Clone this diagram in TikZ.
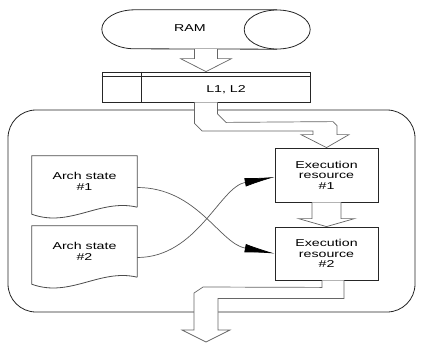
\documentclass[tikz,border=0pt]{standalone}
\usepackage{fontspec}
\setmainfont{Liberation Sans}[FakeStretch=1.42]
\usetikzlibrary{arrows.meta, calc}

\tikzset{
  unit/.style={draw=black!85, line width=0.8pt, fill=white, align=center, inner sep=0pt},
  docline/.style={draw=black!70, line width=0.8pt},
  blockarrow/.style={draw=black!60, line width=0.7pt, fill=white},
  link/.style={draw=black!65, line width=0.7pt, -{Latex[length=30pt,width=8.5pt,black]}},
}

\begin{document}
\begin{tikzpicture}[x=1pt, y=-1pt, font=\fontsize{10}{10.5}\selectfont]
  \useasboundingbox (0,0) rectangle (425,346);

  % core outline
  \node[unit, rounded corners=28pt, minimum width=407pt, minimum height=202pt] (core) at (211.5,211) {};

  % memory side
  \node[inner sep=0pt, minimum width=208pt, minimum height=39pt] (ram) at (206,29.5) {};
  \draw[black!85, line width=0.8pt] ($(ram.north east)+(-33,0)$) -- ($(ram.north west)+(33,0)$)
    arc[start angle=270, end angle=90, x radius=33, y radius=19.5] -- ($(ram.south east)+(-33,0)$);
  \draw[black!85, line width=0.8pt] ($(ram.east)+(-33,0)$) ellipse[x radius=33, y radius=19.5];
  \node (ramtext) at (190,28.5) {RAM};

  \node[unit, minimum width=208pt, minimum height=30pt] (cache) at (206,87) {};
  \draw[black!85, line width=0.8pt] ($(cache.north west)+(0,5)$) -- ($(cache.north east)+(0,5)$);
  \draw[black!85, line width=0.8pt] ($(cache.north west)+(40,0)$) -- ($(cache.south west)+(40,0)$);
  \node (cachetext) at (226,89.5) {L1, L2};

  % arch states
  \node[align=center, inner sep=0pt, minimum width=105pt, minimum height=51pt] (arch1) at (84.5,181.5) {Arch state\\\#1};
  \node[align=center, inner sep=0pt, minimum width=105pt, minimum height=51pt] (arch2) at (84.5,251.5) {Arch state\\\#2};
  \draw[docline] (arch1.south east) |- (arch1.north west) -- ($(arch1.south west)+(0,7)$)
    .. controls +(38,14) and +(-37,-9) .. (arch1.south east);
  \draw[docline] (arch2.south east) |- (arch2.north west) -- ($(arch2.south west)+(0,7)$)
    .. controls +(38,14) and +(-37,-9) .. (arch2.south east);

  % execution resources
  \node[unit, minimum width=103pt, minimum height=54pt] (exe1) at (326.5,175) {Execution\\resource\\\#1};
  \node[unit, minimum width=103pt, minimum height=53pt] (exe2) at (326.5,253.5) {Execution\\resource\\\#2};

  % crossing links
  \draw[link] ($(arch1.east)+(0,6)$) .. controls +(60,0) and +(-55,-10) .. (exe2.west);
  \draw[link] ($(arch2.east)+(0,6)$) .. controls +(60,0) and +(-55,10) .. ($(exe1.west)+(0,2)$);

  % block arrows
  \draw[blockarrow] ($(ram.south)+(-11.5,0)$) |- ($(cache.north)+(-25.5,-13)$) -- (cache.north)
    -- ($(cache.north)+(25.5,-13)$) -| ($(ram.south)+(11.5,0)$);

  \draw[blockarrow] ($(cache.south)+(-11.5,0)$) -- ++(0,21) -- ++(7.5,7.5)
    -| ($(exe1.north)+(-13.5,-13)$) -- ++(-12,0) -- (exe1.north)
    -- ($(exe1.north)+(22.5,-13)$) -- ++(-12,0) -- ++(0,-9) -- ++(-4,-4)
    -- ($(cache.south)+(20,20)$) -- ++(-8.5,-8.5) -- ($(cache.south)+(11.5,0)$);

  \draw[blockarrow] ($(exe1.south)+(-14.5,0)$) |- ($(exe2.north)+(-28,-8)$) -- (exe2.north)
    -- ($(exe2.north)+(28,-8)$) -| ($(exe1.south)+(14.5,0)$);

  \coordinate (out) at (206,342);
  \draw[blockarrow] ($(exe2.south)+(-4.5,0)$) -- ++(0,7) -- ($(out)+(-3,-55)$) -- ++(-9,6)
    |- ($(out)+(-24,-12)$) -- (out) -- ($(out)+(24,-12)$) -- ++(-12,0)
    |- ($(exe2.south)+(17.5,18)$) -- ($(exe2.south)+(17.5,0)$);
\end{tikzpicture}
\end{document}
